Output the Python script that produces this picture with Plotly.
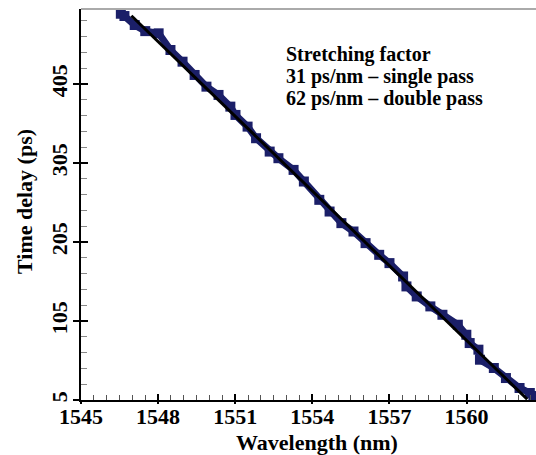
import plotly.graph_objects as go

# Measured data (blue, noisy)
wavelength_nm = [1546.55, 1546.69, 1547.09, 1547.5, 1548.02, 1548.48, 1548.95, 1549.42, 1549.88,
                 1550.35, 1550.81, 1551.01, 1551.48, 1551.81, 1552.34, 1552.68, 1553.27,
                 1553.67, 1554.27, 1554.67, 1555.13, 1555.60, 1556.07, 1556.60, 1557.00,
                 1557.53, 1557.66, 1558.06, 1558.59, 1559.06, 1559.66, 1559.99, 1560.12,
                 1560.46, 1560.52, 1561.06, 1561.53, 1562.06, 1562.46, 1562.6]
delay_ps = [494.0, 491.1, 479.7, 472.0, 469.2, 448.1, 433.3, 416.5, 401.7,
            391.2, 376.4, 365.9, 351.1, 336.4, 319.5, 311.1, 296.3,
            281.6, 258.4, 243.6, 228.9, 218.3, 203.6, 188.8, 178.3,
            161.4, 148.8, 136.1, 123.5, 112.9, 100.3, 87.6, 77.1,
            68.7, 56.0, 45.5, 32.8, 20.2, 13.9, 10.0]

# Linear fit (black)
fit_x = [1546.96, 1562.36]
fit_y = [491.5, 6.0]

x_ticks = [1545, 1548, 1551, 1554, 1557, 1560]
y_ticks = [5, 105, 205, 305, 405]
annotation_lines = ["Stretching factor", "31 ps/nm \u2013 single pass", "62 ps/nm \u2013 double pass"]
x_title = "Wavelength (nm)"
y_title = "Time delay (ps)"

x_range = [1545, 1562.7]
y_range = [5, 500]

FONT = "Liberation Serif"
blue = "#1b1f68"
W, H = 536, 455
L, R, T, B = 81, 0, 9, 55

fig = go.Figure()
fig.add_trace(go.Scatter(x=wavelength_nm, y=delay_ps, mode="lines+markers",
                         line=dict(color=blue, width=7),
                         marker=dict(color=blue, size=10, symbol="square"),
                         showlegend=False))
fig.add_trace(go.Scatter(x=fit_x, y=fit_y, mode="lines",
                         line=dict(color="black", width=3), showlegend=False))
fig.add_trace(go.Scatter(x=[x_range[0]], y=[y_range[0]], xaxis="x2", yaxis="y2",
                         mode="markers", marker=dict(opacity=0), showlegend=False, hoverinfo="skip"))

tf = dict(family=FONT, size=22, weight="bold", color="black")
fig.update_layout(
    width=W, height=H,
    margin=dict(l=L, r=R, t=T, b=B, autoexpand=False),
    plot_bgcolor="white", paper_bgcolor="white",
    font=dict(family=FONT, color="black"),
    xaxis=dict(range=x_range, tickvals=x_ticks, ticks="inside", ticklen=6, tickwidth=1.5,
               tickcolor="black", showline=True, linecolor="black", linewidth=2,
               showgrid=False, zeroline=False, automargin=False, ticklabelstandoff=-4,
               tickfont=tf,
               minor=dict(dtick=0.5, tick0=1545, ticks="inside", ticklen=5, tickcolor="#555", tickwidth=1)),
    yaxis=dict(range=y_range, tickvals=y_ticks, ticks="inside", ticklen=7, tickwidth=1.5,
               tickcolor="black", showline=True, linecolor="black", linewidth=2,
               showgrid=False, zeroline=False, tickangle=-90, automargin=False,
               ticklabelstandoff=3,
               tickfont=tf,
               minor=dict(dtick=20, tick0=5, ticks="inside", ticklen=6, tickcolor="#888", tickwidth=1)),
    xaxis2=dict(range=x_range, overlaying="x", tickvals=x_ticks, ticks="outside", ticklen=3,
                tickwidth=1.5, tickcolor="black", showticklabels=False, showline=False,
                showgrid=False, zeroline=False, automargin=False),
    yaxis2=dict(range=y_range, overlaying="y", tickvals=y_ticks, ticks="outside", ticklen=7,
                tickwidth=1.5, tickcolor="black", showticklabels=False, showline=False,
                showgrid=False, zeroline=False, automargin=False),
)

# top gray border
fig.add_shape(type="line", xref="paper", yref="paper", x0=0, x1=1, y0=1, y1=1,
              line=dict(color="#aaaaaa", width=2))

# axis titles as annotations (pixel-placed)
pw, ph = W - L - R, H - T - B
fig.add_annotation(x=(317 - L) / pw, y=-(442 - (H - B)) / ph, xref="paper", yref="paper",
                   text=x_title, showarrow=False, xanchor="center", yanchor="middle",
                   font=dict(family=FONT, size=22, weight="bold", color="black"))
fig.add_annotation(x=-(L - 25) / pw, y=(H - B - 202) / ph, xref="paper", yref="paper",
                   text=y_title, showarrow=False, xanchor="center", yanchor="middle", textangle=-90,
                   font=dict(family=FONT, size=22, weight="bold", color="black"))

for i, t in enumerate(annotation_lines):
    fig.add_annotation(x=1552.88, y=443 - i * 28, xref="x", yref="y", text=t, showarrow=False,
                       xanchor="left", yanchor="middle",
                       font=dict(family=FONT, size=20, weight="bold", color="black"))

fig.write_html("out.html", config={"displayModeBar": False},
               post_script="document.body.style.margin='0';")
